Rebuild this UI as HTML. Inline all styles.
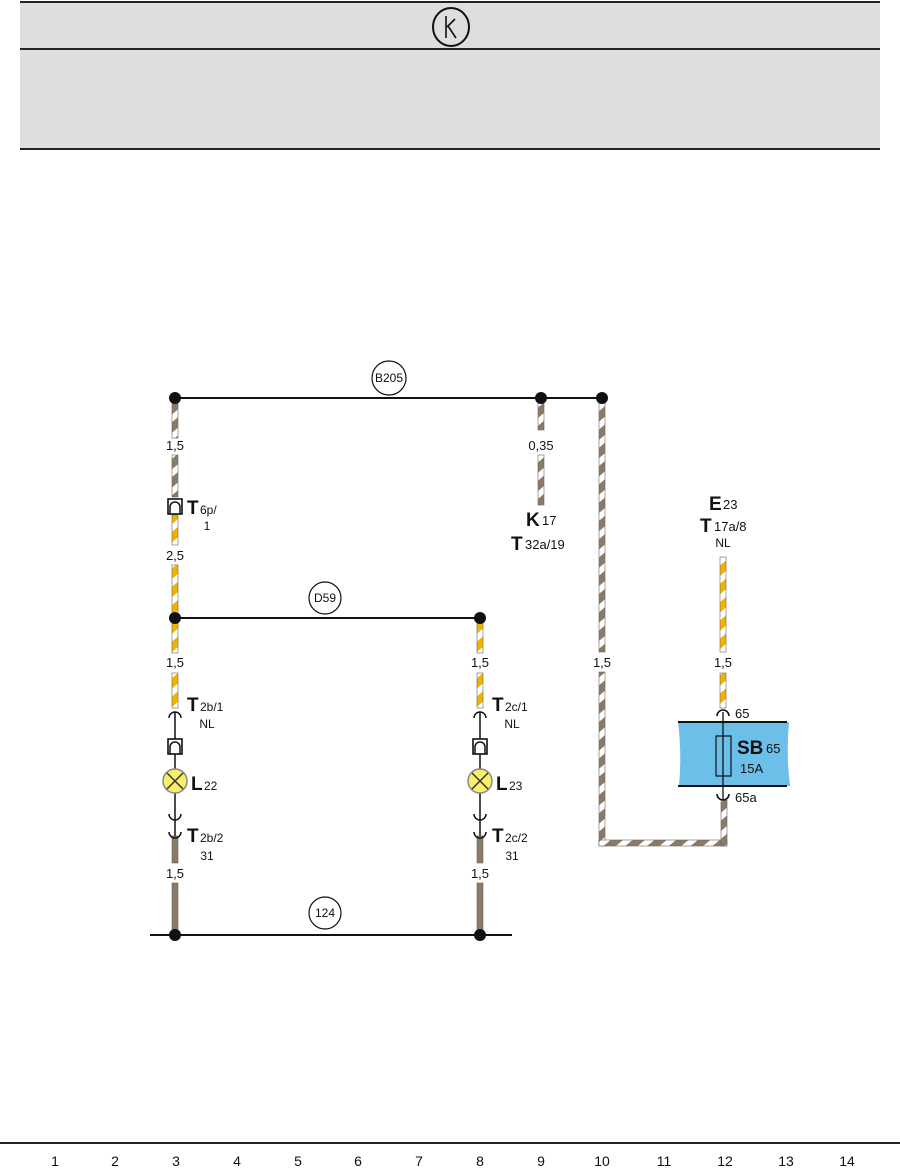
<!DOCTYPE html>
<html><head><meta charset="utf-8"><style>
html,body{margin:0;padding:0;background:#fff;}
svg{display:block;}
text{font-family:"Liberation Sans",Arial,sans-serif;fill:#111;}
</style></head><body>
<svg width="900" height="1169" viewBox="0 0 900 1169" xmlns="http://www.w3.org/2000/svg">
<defs>
<pattern id="br" patternUnits="userSpaceOnUse" width="14" height="14" patternTransform="rotate(-40)">
<rect width="14" height="14" fill="#fff"/><rect width="14" height="8" fill="#8b7b66"/></pattern>
<pattern id="ye" patternUnits="userSpaceOnUse" width="14" height="14" patternTransform="rotate(-40)">
<rect width="14" height="14" fill="#fff"/><rect width="14" height="8" fill="#f0b400"/></pattern>
</defs>
<!-- header -->
<rect x="20" y="2" width="860" height="147" fill="#dedede"/>
<line x1="20" y1="2" x2="880" y2="2" stroke="#222" stroke-width="2"/>
<line x1="20" y1="49" x2="880" y2="49" stroke="#222" stroke-width="2"/>
<line x1="20" y1="149" x2="880" y2="149" stroke="#222" stroke-width="2"/>
<ellipse cx="451" cy="27" rx="18" ry="19" fill="none" stroke="#111" stroke-width="2"/>
<path d="M446 16 V38 M447 27 L455 19 M448 26 L456 38" stroke="#111" stroke-width="1.6" fill="none"/>

<!-- horizontal thin lines -->
<line x1="175" y1="398" x2="602" y2="398" stroke="#111" stroke-width="2"/>
<line x1="175" y1="618" x2="480" y2="618" stroke="#111" stroke-width="2"/>
<line x1="150" y1="935" x2="512" y2="935" stroke="#111" stroke-width="2"/>

<!-- left wire x=175 -->
<g stroke="#666" stroke-width="0.6">
<rect x="172" y="400" width="6" height="38" fill="url(#br)"/>
<rect x="172" y="455" width="6" height="42" fill="url(#br)"/>
<rect x="172" y="515" width="6" height="30" fill="url(#ye)"/>
<rect x="172" y="565" width="6" height="88" fill="url(#ye)"/>
<rect x="172" y="673" width="6" height="35" fill="url(#ye)"/>
<rect x="172" y="836" width="6" height="27" fill="#8b7b66"/>
<rect x="172" y="883" width="6" height="52" fill="#8b7b66"/>
<!-- right lamp wire x=480 -->
<rect x="477" y="620" width="6" height="33" fill="url(#ye)"/>
<rect x="477" y="673" width="6" height="35" fill="url(#ye)"/>
<rect x="477" y="836" width="6" height="27" fill="#8b7b66"/>
<rect x="477" y="883" width="6" height="52" fill="#8b7b66"/>
<!-- x=541 -->
<rect x="538" y="400" width="6" height="30" fill="url(#br)"/>
<rect x="538" y="455" width="6" height="50" fill="url(#br)"/>
<!-- x=602 -->
<rect x="599" y="400" width="6" height="252" fill="url(#br)"/>
<rect x="599" y="672" width="6" height="174" fill="url(#br)"/>
<rect x="599" y="840" width="128" height="6" fill="url(#br)"/>
<rect x="721" y="800" width="6" height="46" fill="url(#br)"/>
<!-- x=723 -->
<rect x="720" y="557" width="6" height="95" fill="url(#ye)"/>
<rect x="720" y="673" width="6" height="35" fill="url(#ye)"/>
</g>
<rect x="600" y="846" width="4" height="0" fill="none"/>

<!-- dots -->
<g fill="#111">
<circle cx="175" cy="398" r="6"/><circle cx="541" cy="398" r="6"/><circle cx="602" cy="398" r="6"/>
<circle cx="175" cy="618" r="6"/><circle cx="480" cy="618" r="6"/>
<circle cx="175" cy="935" r="6"/><circle cx="480" cy="935" r="6"/>
</g>

<!-- circle labels -->
<g fill="#fff" stroke="#111" stroke-width="1.2">
<circle cx="389" cy="378" r="17"/><circle cx="325" cy="598" r="16"/><circle cx="325" cy="913" r="16"/>
</g>
<g font-size="12" text-anchor="middle">
<text x="389" y="382">B205</text><text x="325" y="602">D59</text><text x="325" y="917">124</text>
</g>

<!-- T6p connector -->
<rect x="168" y="499" width="14" height="15" fill="#fff" stroke="#111" stroke-width="1.6"/>
<path d="M170 514 V507 A5 5 0 0 1 180 507 V514" fill="none" stroke="#111" stroke-width="1.5"/>
<text x="187" y="514" font-size="19" font-weight="bold">T</text><text x="200" y="514" font-size="12">6p/</text>
<text x="207" y="530" font-size="12" text-anchor="middle">1</text>

<!-- wire size labels -->
<g font-size="13" text-anchor="middle">
<text x="175" y="450">1,5</text><text x="175" y="560">2,5</text><text x="175" y="667">1,5</text><text x="175" y="878">1,5</text>
<text x="480" y="667">1,5</text><text x="480" y="878">1,5</text>
<text x="541" y="450">0,35</text><text x="602" y="667">1,5</text><text x="723" y="667">1,5</text>
</g>

<!-- lamp chains -->
<g id="lamp" fill="none" stroke="#111" stroke-width="1.5">
<path d="M169 718 A6 6 0 0 1 181 718"/>
<line x1="175" y1="712" x2="175" y2="836"/>
<rect x="168" y="739" width="14" height="15" fill="#fff" stroke-width="1.6"/>
<path d="M170 754 V747 A5 5 0 0 1 180 747 V754"/>
<circle cx="175" cy="781" r="12" fill="#f7ef6a" stroke="#888"/>
<path d="M167 773 L183 789 M183 773 L167 789" stroke="#333"/>
<path d="M169 814 A6 6 0 0 0 181 814"/>
<path d="M169 832 A6 6 0 0 0 181 832"/>
</g>
<use href="#lamp" x="305"/>
<g>
<text x="187" y="711" font-size="19" font-weight="bold">T</text><text x="200" y="711" font-size="12">2b/1</text>
<text x="207" y="728" font-size="12" text-anchor="middle">NL</text>
<text x="191" y="790" font-size="19" font-weight="bold">L</text><text x="204" y="790" font-size="12">22</text>
<text x="187" y="842" font-size="19" font-weight="bold">T</text><text x="200" y="842" font-size="12">2b/2</text>
<text x="207" y="860" font-size="12" text-anchor="middle">31</text>
<text x="492" y="711" font-size="19" font-weight="bold">T</text><text x="505" y="711" font-size="12">2c/1</text>
<text x="512" y="728" font-size="12" text-anchor="middle">NL</text>
<text x="496" y="790" font-size="19" font-weight="bold">L</text><text x="509" y="790" font-size="12">23</text>
<text x="492" y="842" font-size="19" font-weight="bold">T</text><text x="505" y="842" font-size="12">2c/2</text>
<text x="512" y="860" font-size="12" text-anchor="middle">31</text>
</g>

<!-- K17 -->
<text x="526" y="526" font-size="19" font-weight="bold">K</text><text x="542" y="525" font-size="13">17</text>
<text x="511" y="550" font-size="19" font-weight="bold">T</text><text x="525" y="549" font-size="13">32a/19</text>
<!-- E23 -->
<text x="709" y="510" font-size="19" font-weight="bold">E</text><text x="723" y="509" font-size="13">23</text>
<text x="700" y="532" font-size="19" font-weight="bold">T</text><text x="714" y="531" font-size="13">17a/8</text>
<text x="723" y="547" font-size="12" text-anchor="middle">NL</text>

<!-- SB65 -->
<path d="M678 722 H789 Q786 754 790 786 H679 Q682 754 678 722 Z" fill="#6bbfe8"/>
<line x1="678" y1="722" x2="787" y2="722" stroke="#111" stroke-width="2"/>
<line x1="678" y1="786" x2="787" y2="786" stroke="#111" stroke-width="2"/>
<line x1="723" y1="712" x2="723" y2="800" stroke="#111" stroke-width="1.3"/>
<rect x="716" y="736" width="15" height="40" fill="none" stroke="#111" stroke-width="1.2"/>
<path d="M717 716 A6 6 0 0 1 729 716" fill="none" stroke="#111" stroke-width="1.6"/>
<path d="M717 794 A6 6 0 0 0 729 794" fill="none" stroke="#111" stroke-width="1.6"/>
<text x="735" y="718" font-size="13">65</text>
<text x="735" y="802" font-size="13">65a</text>
<text x="737" y="754" font-size="19" font-weight="bold">SB</text><text x="766" y="753" font-size="13">65</text>
<text x="740" y="773" font-size="13">15A</text>

<!-- footer -->
<line x1="0" y1="1143" x2="900" y2="1143" stroke="#222" stroke-width="2"/>
<g font-size="14" text-anchor="middle">
<text x="55" y="1166">1</text><text x="115" y="1166">2</text><text x="176" y="1166">3</text><text x="237" y="1166">4</text>
<text x="298" y="1166">5</text><text x="358" y="1166">6</text><text x="419" y="1166">7</text><text x="480" y="1166">8</text>
<text x="541" y="1166">9</text><text x="602" y="1166">10</text><text x="664" y="1166">11</text><text x="725" y="1166">12</text>
<text x="786" y="1166">13</text><text x="847" y="1166">14</text>
</g>
</svg>
</body></html>
